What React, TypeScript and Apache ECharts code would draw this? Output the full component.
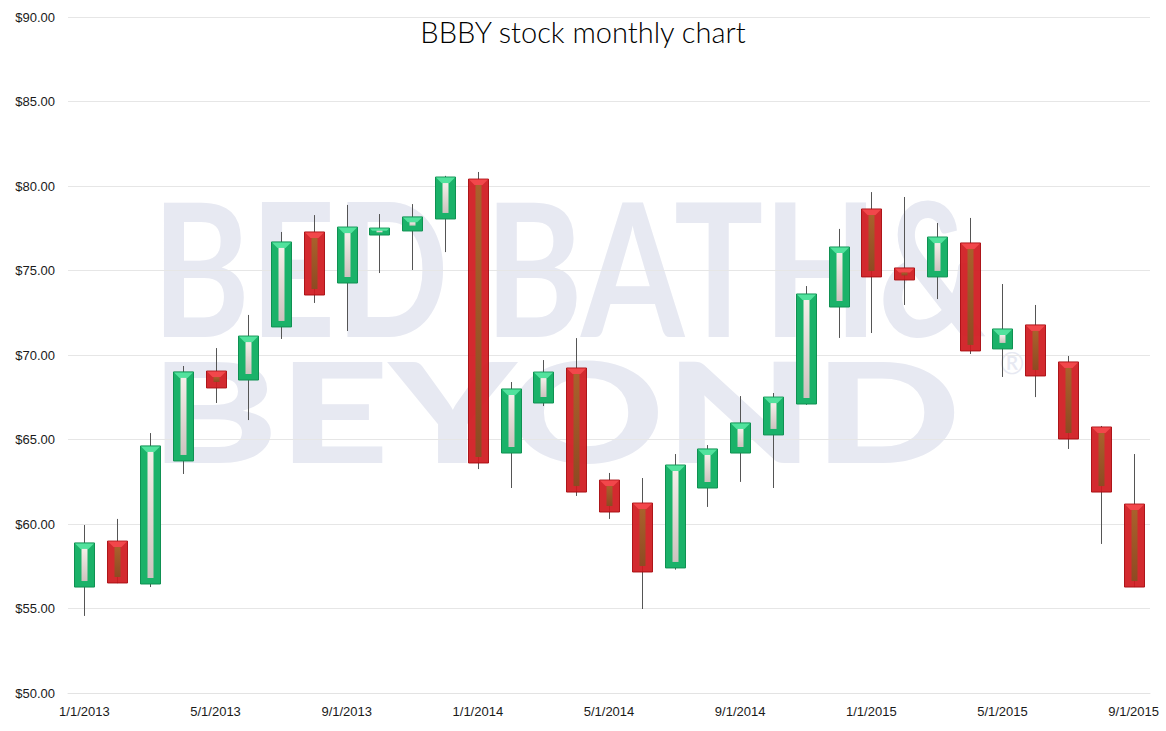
import React, { useEffect, useRef } from "react";
import * as echarts from "echarts";

const dates = [
  "1/1/2013", "2/1/2013", "3/1/2013", "4/1/2013", "5/1/2013", "6/1/2013",
  "7/1/2013", "8/1/2013", "9/1/2013", "10/1/2013", "11/1/2013", "12/1/2013",
  "1/1/2014", "2/1/2014", "3/1/2014", "4/1/2014", "5/1/2014", "6/1/2014",
  "7/1/2014", "8/1/2014", "9/1/2014", "10/1/2014", "11/1/2014", "12/1/2014",
  "1/1/2015", "2/1/2015", "3/1/2015", "4/1/2015", "5/1/2015", "6/1/2015",
  "7/1/2015", "8/1/2015", "9/1/2015",
];
const openValues = [
  56.27, 58.99, 56.45, 63.73, 69.05, 68.52, 71.66, 77.28, 74.26, 77.10, 77.34, 78.05,
  80.41, 64.20, 67.16, 69.23, 62.60, 61.24, 57.40, 62.13, 64.20, 65.27, 67.10, 72.84,
  78.64, 75.15, 74.62, 76.63, 70.36, 71.78, 69.59, 65.74, 61.18,
];
const closeValues = [
  58.88, 56.51, 64.62, 69.00, 68.05, 71.12, 76.69, 73.55, 77.57, 77.51, 78.17, 80.53,
  63.61, 67.99, 68.99, 61.89, 60.71, 57.16, 63.49, 64.44, 65.98, 67.51, 73.61, 76.39,
  74.62, 74.44, 76.98, 70.24, 71.54, 68.76, 65.03, 61.89, 56.27,
];
const lowValues = [
  54.56, 56.50, 56.27, 62.96, 67.16, 66.15, 70.95, 73.08, 71.42, 74.85, 75.03, 76.09,
  63.25, 62.13, 66.98, 61.66, 60.30, 54.97, 57.30, 61.01, 62.49, 62.13, 67.05, 71.01,
  71.30, 72.96, 73.31, 70.06, 68.70, 67.51, 64.44, 58.82, 56.27,
];
const highValues = [
  59.94, 60.30, 65.38, 69.35, 70.41, 72.37, 77.28, 78.28, 78.88, 78.34, 78.93, 80.60,
  80.83, 68.40, 69.70, 71.00, 63.02, 62.72, 64.14, 64.67, 67.57, 67.75, 74.08, 77.46,
  79.64, 79.35, 77.81, 78.11, 74.20, 72.96, 69.94, 65.80, 64.14,
];
const yTicks = { min: 50, max: 90, interval: 5 };
const titleText = "BBBY stock monthly chart";

export default function App() {
  const ref = useRef<HTMLDivElement>(null);
  useEffect(() => {
    if (!ref.current) return;
    const chart = echarts.init(ref.current, null, { renderer: "svg" });
    const data = dates.map((_, i) => [i, openValues[i], closeValues[i], lowValues[i], highValues[i]]);

    const renderItem = (params: any, api: any) => {
      const idx = api.value(0);
      const o = api.value(1);
      const c = api.value(2);
      const lo = api.value(3);
      const hi = api.value(4);
      const pO = api.coord([idx, o]);
      const pC = api.coord([idx, c]);
      const pL = api.coord([idx, lo]);
      const pH = api.coord([idx, hi]);
      const band = api.size([1, 0])[0];
      const w = Math.round(band * 0.62);
      const cx = Math.round(pO[0]) + 0.5;
      const x0 = cx - w / 2;
      const top = Math.min(pO[1], pC[1]);
      const bot = Math.max(pO[1], pC[1]);
      const h = Math.max(bot - top, 2);
      const up = c >= o;
      const fill = up ? "#1ab269" : "#d01a1f";
      const stroke = up ? "#0f9152" : "#a80c10";
      const bevel = up ? "#52e29d" : "#f2474b";
      const inset = Math.min(6, h * 0.38);
      const iw = w * 0.3;
      const innerFill = up
        ? new echarts.graphic.LinearGradient(0, 0, 0, 1, [
            { offset: 0, color: "#f4eee8" },
            { offset: 1, color: "#cdc3bf" },
          ])
        : new echarts.graphic.LinearGradient(0, 0, 0, 1, [
            { offset: 0, color: "#a9612c" },
            { offset: 1, color: "#8e4a22" },
          ]);
      return {
        type: "group",
        children: [
          {
            type: "line",
            shape: { x1: cx, y1: pH[1], x2: cx, y2: pL[1] },
            style: { stroke: "#555555", lineWidth: 1 },
          },
          {
            type: "rect",
            shape: { x: x0, y: top, width: w, height: h },
            style: { fill, stroke, lineWidth: 1, opacity: up ? 1 : 0.93 },
          },
          {
            type: "polygon",
            shape: {
              points: [
                [x0 + 0.5, top + 0.5],
                [x0 + w - 0.5, top + 0.5],
                [x0 + w - inset, top + inset],
                [x0 + inset, top + inset],
              ],
            },
            style: { fill: bevel },
          },
          {
            type: "rect",
            shape: {
              x: cx - iw / 2,
              y: top + inset,
              width: iw,
              height: Math.max(h - inset * 2, 1),
            },
            style: { fill: innerFill },
          },
        ],
      };
    };

    const wmColor = "#e7e9f2";
    chart.setOption({
      animation: false,
      backgroundColor: "#ffffff",
      title: {
        text: titleText,
        left: "center",
        top: 12,
        textStyle: {
          fontFamily: "Lato",
          fontWeight: 300,
          fontSize: 29,
          color: "#000000",
        },
      },
      graphic: [
        {
          type: "text",
          x: 152,
          y: 265,
          z: -1,
          scaleX: 0.8,
          style: {
            text: "BED BATH&",
            fontFamily: "Lato",
            fontWeight: 700,
            fontSize: 186,
            fill: wmColor,
            verticalAlign: "middle",
            align: "left",
          },
        },
        {
          type: "text",
          x: 150,
          y: 409,
          z: -1,
          scaleX: 1.39,
          style: {
            text: "BEYOND",
            fontFamily: "Lato",
            fontWeight: 900,
            fontSize: 139,
            fill: wmColor,
            verticalAlign: "middle",
            align: "left",
          },
        },
        {
          type: "text",
          x: 1012,
          y: 362,
          z: -1,
          style: {
            text: "®",
            fontFamily: "Lato",
            fontSize: 30,
            fill: wmColor,
            verticalAlign: "middle",
            align: "center",
          },
        },
      ],
      grid: { left: 68, right: 16, top: 17, bottom: 38, containLabel: false },
      xAxis: {
        type: "category",
        data: dates,
        boundaryGap: true,
        axisTick: { show: false },
        axisLine: { show: true, lineStyle: { color: "#e3e3e3" } },
        axisLabel: {
          interval: 3,
          margin: 12,
          color: "#1a1a1a",
          fontFamily: "Liberation Sans",
          fontSize: 13,
        },
        splitLine: { show: false },
      },
      yAxis: {
        type: "value",
        min: yTicks.min,
        max: yTicks.max,
        interval: yTicks.interval,
        axisLine: { show: false },
        axisTick: { show: false },
        axisLabel: {
          margin: 13,
          color: "#1a1a1a",
          fontFamily: "Liberation Sans",
          fontSize: 13,
          formatter: (v: number) => "$" + v.toFixed(2),
        },
        splitLine: { lineStyle: { color: "#e6e6e6", width: 1 } },
      },
      series: [
        {
          type: "custom",
          name: "BBBY",
          renderItem,
          encode: { x: 0, y: [1, 2, 3, 4] },
          data,
          z: 3,
        },
      ],
    });
    return () => chart.dispose();
  }, []);
  return (
    <div
      ref={ref}
      style={{ position: "fixed", left: 0, top: 0, width: 1166, height: 731 }}
    />
  );
}
